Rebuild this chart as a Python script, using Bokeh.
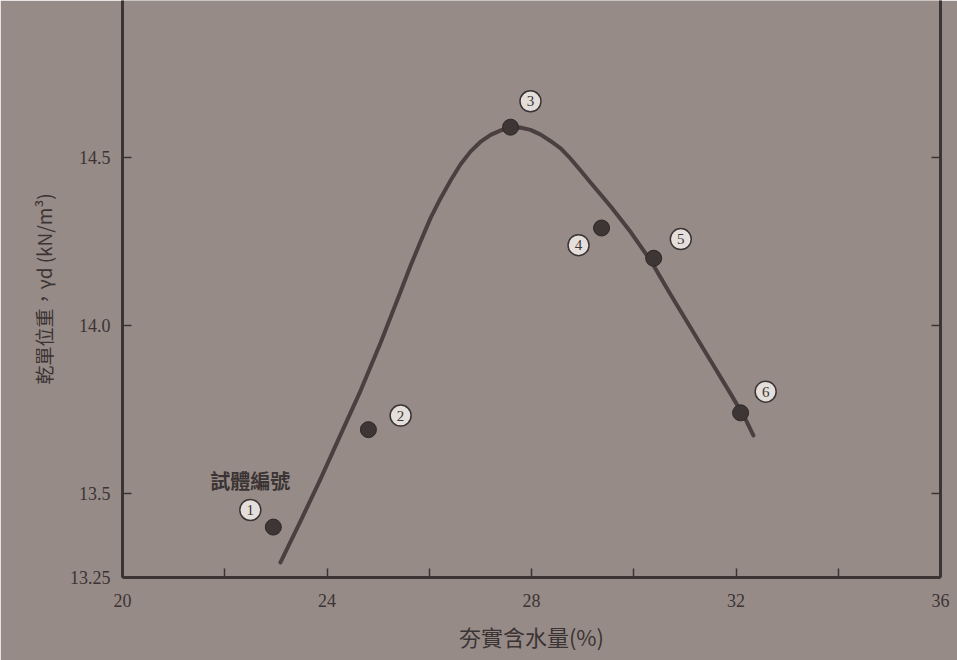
from bokeh.plotting import figure
from bokeh.models import (ColumnDataSource, LinearAxis, FixedTicker, Range1d, Label)
from bokeh.core.properties import value
from bokeh.embed import file_html
from bokeh.resources import INLINE

# Compaction test results: moulding water content (%) and dry unit weight (kN/m^3)
specimen_ids = ["1", "2", "3", "4", "5", "6"]
water_content = [22.95, 24.81, 27.59, 29.37, 30.39, 32.09]
dry_unit_weight = [13.40, 13.69, 14.59, 14.29, 14.20, 13.74]

# Smooth compaction curve traced through the results
curve_w = [23.09, 23.48, 23.87, 24.26, 24.66, 25.05, 25.44, 25.63, 25.83, 26.02,
           26.22, 26.42, 26.61, 26.81, 27.00, 27.20, 27.39, 27.59, 27.78, 27.98,
           28.18, 28.37, 28.57, 28.76, 28.96, 29.15, 29.55, 29.94, 30.33, 30.72,
           31.11, 31.50, 31.89, 32.19, 32.34]
curve_gd = [13.295, 13.417, 13.542, 13.673, 13.807, 13.949, 14.101, 14.176, 14.250, 14.318,
            14.378, 14.432, 14.479, 14.518, 14.546, 14.567, 14.580, 14.588, 14.589, 14.582,
            14.568, 14.549, 14.527, 14.497, 14.461, 14.426, 14.354, 14.278, 14.193, 14.092,
            13.994, 13.896, 13.798, 13.720, 13.673]

x_major = [20, 24, 28, 32, 36]
x_minor = [22, 26, 30, 34]
y_ticks = [13.25, 13.5, 14.0, 14.5]
y_tick_labels = {13.25: "13.25", 13.5: "13.5", 14.0: "14.0", 14.5: "14.5"}

# Offsets of the circled specimen numbers from their points (data units)
tag_dx = [-0.45, 0.63, 0.39, -0.45, 0.53, 0.49]
tag_dy = [0.051, 0.042, 0.077, -0.051, 0.057, 0.063]

PAPER = "#978b87"
INK = "#3b3434"
SERIF = "Liberation Serif"
CJK = "Noto Sans CJK TC"

p = figure(width=957, height=660, output_backend="svg", toolbar_location=None,
           x_range=Range1d(20, 36), y_range=Range1d(13.25, 14.967),
           x_axis_location=None, y_axis_location=None,
           min_border_left=122, min_border_right=17, min_border_top=0, min_border_bottom=83)
p.background_fill_color = PAPER
p.border_fill_color = PAPER
p.outline_line_color = None
p.grid.visible = False


def style_axis(ax):
    ax.axis_line_color = INK
    ax.axis_line_width = 3
    for kind in ("major", "minor"):
        setattr(ax, f"{kind}_tick_line_color", INK)
        setattr(ax, f"{kind}_tick_line_width", 1.5)
        setattr(ax, f"{kind}_tick_in", 9)
        setattr(ax, f"{kind}_tick_out", 0)
    ax.major_label_text_color = INK
    ax.major_label_text_font = SERIF
    ax.major_label_text_font_size = "18px"
    ax.axis_label_text_color = INK
    ax.axis_label_text_font = CJK
    ax.axis_label_text_font_style = "normal"


xaxis = LinearAxis(ticker=FixedTicker(ticks=x_major, minor_ticks=x_minor),
                   axis_label="夯實含水量(%)")
style_axis(xaxis)
xaxis.major_label_standoff = 16
xaxis.axis_label_standoff = 10
xaxis.axis_label_text_font_size = "22px"
p.add_layout(xaxis, "below")

yaxis = LinearAxis(ticker=FixedTicker(ticks=y_ticks), major_label_overrides=y_tick_labels,
                   axis_label="乾單位重，γd (kN/m³)")
style_axis(yaxis)
yaxis.major_label_standoff = 12
yaxis.axis_label_standoff = 10
yaxis.axis_label_text_font_size = "19px"
p.add_layout(yaxis, "left")

# right-hand frame edge carries unlabelled ticks only
raxis = LinearAxis(ticker=FixedTicker(ticks=[], minor_ticks=y_ticks[1:]))
style_axis(raxis)
raxis.major_label_standoff = 0
p.add_layout(raxis, "right")

# compaction curve
p.line(curve_w, curve_gd, line_color="#4a4040", line_width=4, line_cap="round",
       line_join="round")

# measured points
pts = ColumnDataSource(dict(w=water_content, gd=dry_unit_weight, sid=specimen_ids,
                            tx=[w + d for w, d in zip(water_content, tag_dx)],
                            ty=[g + d for g, d in zip(dry_unit_weight, tag_dy)]))
p.scatter("w", "gd", source=pts, size=16, fill_color="#3e3535", line_color="#2e2727")

# circled specimen numbers
p.scatter("tx", "ty", source=pts, size=21, fill_color="#e4dfdb", line_color="#3b3434",
          line_width=1.5)
p.text("tx", "ty", text="sid", source=pts, text_font=value(SERIF), text_font_size="15px",
       text_color="#3b3434", text_align="center", text_baseline="middle")

p.add_layout(Label(x=22.5, y=13.539, text="試體編號", text_font=CJK, text_font_size="20px",
                   text_font_style="bold", text_color=INK, text_align="center",
                   text_baseline="middle"))

open("out.html", "w").write(file_html(p, INLINE))
